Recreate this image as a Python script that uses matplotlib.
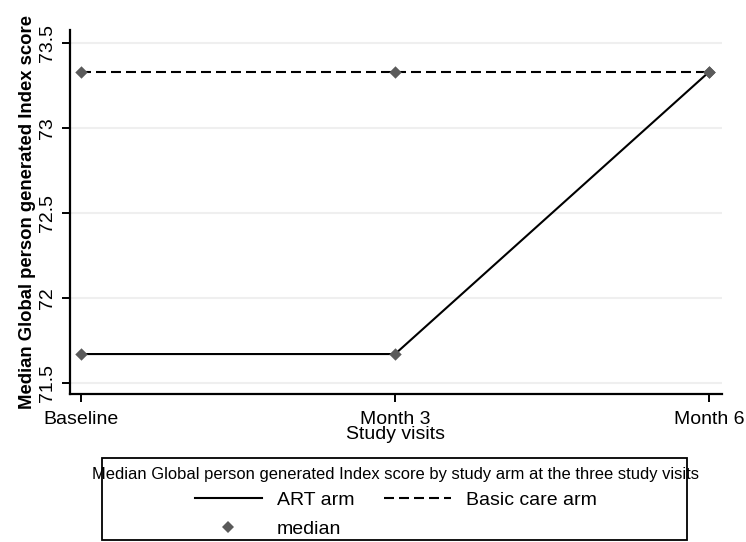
import matplotlib
matplotlib.use("Agg")
import matplotlib.pyplot as plt
from matplotlib.lines import Line2D
from matplotlib.patches import Rectangle

plt.rcParams['font.family'] = ['Liberation Sans', 'DejaVu Sans']

# data
visits = ["Baseline", "Month 3", "Month 6"]
art_arm = [71.67, 71.67, 73.33]
basic_care_arm = [73.33, 73.33, 73.33]
y_ticks = [71.5, 72, 72.5, 73, 73.5]
y_tick_labels = ["71.5", "72", "72.5", "73", "73.5"]

W, H = 746, 542
fig = plt.figure(figsize=(W / 100, H / 100), dpi=100)
ax = fig.add_axes([70 / W, 1 - 394 / H, (722 - 70) / W, (394 - 30) / H])

dash = (0, (4.8, 2.4))
marker_col = '#5a5a5a'

x = list(range(len(visits)))
ax.plot(x, art_arm, color='black', lw=1.5, ls='-', zorder=2)
ax.plot(x, basic_care_arm, color='black', lw=1.5, ls=dash, zorder=2)
ax.scatter(x, art_arm, marker='D', s=40, color=marker_col, zorder=3, lw=0)
ax.scatter(x, basic_care_arm, marker='D', s=40, color=marker_col, zorder=3, lw=0)

ax.set_xlim(-0.035, 2.041)
ax.set_ylim(71.435, 73.576)
ax.set_xticks(x)
ax.set_xticklabels(visits, fontsize=14)
ax.set_yticks(y_ticks)
ax.set_yticklabels(y_tick_labels, fontsize=14, rotation=90, va='center')
ax.grid(axis='y', color='#efefef', lw=1.5)
ax.set_axisbelow(True)
for s in ['top', 'right']:
    ax.spines[s].set_visible(False)
for s in ['left', 'bottom']:
    ax.spines[s].set_linewidth(1.6)
ax.tick_params(direction='out', length=6, width=1.4, pad=4)
ax.tick_params(axis='x', pad=6)

ax.set_xlabel("Study visits", fontsize=14, labelpad=-1)
ax.set_ylabel("Median Global person generated Index score", fontsize=13.3,
              fontweight='bold', labelpad=2)

handles = [
    Line2D([], [], color='black', lw=1.5, ls='-'),
    Line2D([], [], ls='none', marker='D', markersize=6, color=marker_col, mew=0),
    Line2D([], [], color='black', lw=1.5, ls=dash),
]
labels = ["ART arm", "median", "Basic care arm"]
leg = fig.legend(handles, labels, ncol=2, loc='upper center',
                 bbox_to_anchor=(396 / W, 1 - 465 / H),
                 title="Median Global person generated Index score by study arm at the three study visits",
                 title_fontsize=11.9, fontsize=14, frameon=False,
                 handlelength=3.45, handletextpad=0.77, columnspacing=1.54,
                 borderpad=0.1, labelspacing=0.55, borderaxespad=0)
leg._legend_box.sep = 7
fig.add_artist(Rectangle((102 / W, 1 - 540 / H), (687 - 102) / W, (540 - 458) / H,
                         transform=fig.transFigure, fill=False,
                         edgecolor='black', lw=1.3))

fig.savefig("out.png", dpi=100)
